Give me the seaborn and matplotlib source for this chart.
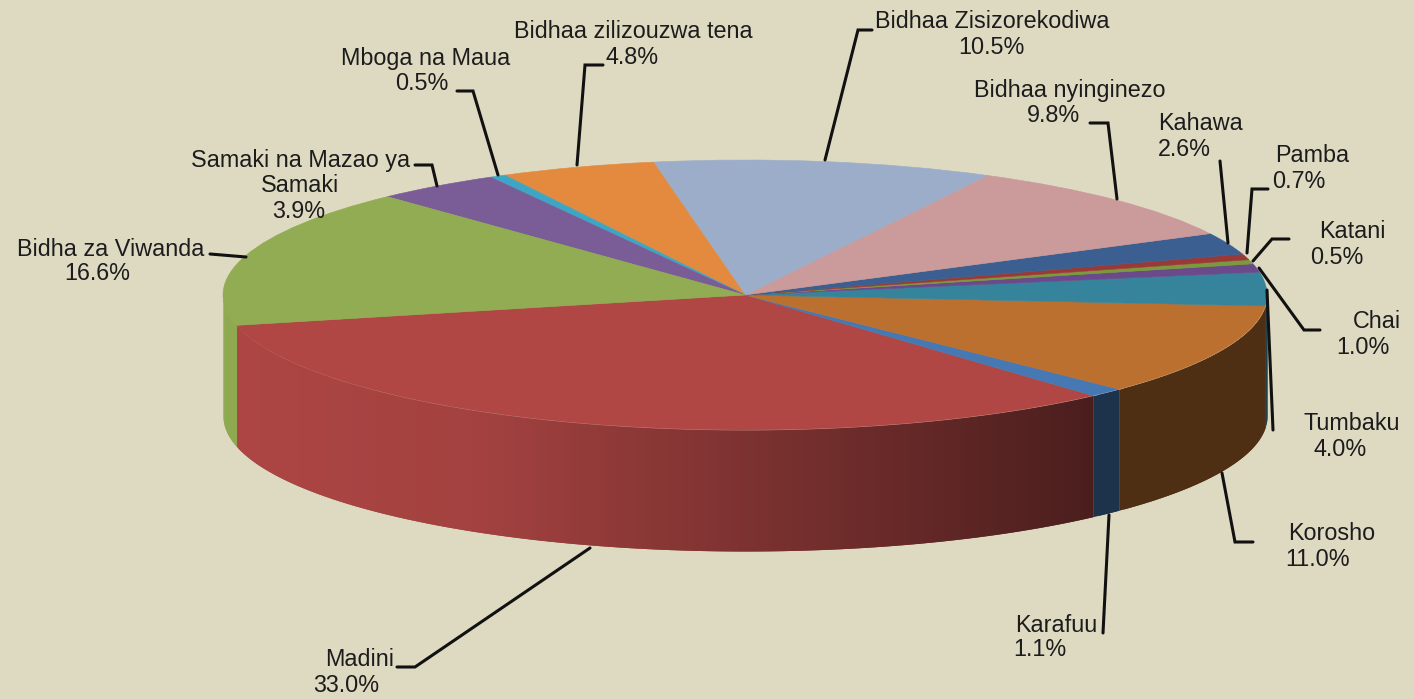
import numpy as np
import matplotlib
matplotlib.use("Agg")
import matplotlib.pyplot as plt
import seaborn as sns

categories = ["Madini", "Karafuu", "Korosho", "Tumbaku", "Chai", "Katani", "Pamba", "Kahawa",
              "Bidhaa nyinginezo", "Bidhaa Zisizorekodiwa", "Bidhaa zilizouzwa tena",
              "Mboga na Maua", "Samaki na Mazao ya\nSamaki", "Bidha za Viwanda"]
shares = [33.0, 1.1, 11.0, 4.0, 1.0, 0.5, 0.7, 2.6, 9.8, 10.5, 4.8, 0.5, 3.9, 16.6]
slice_colors = ["#B04745", "#4679B3", "#BC7030", "#36849B", "#6A4A8A", "#7A9A3C", "#9A3A38",
                "#3A5F90", "#CB9A9B", "#9CADC9", "#E48A3E", "#3EA6C4", "#7A5C96", "#91AC52"]

# pixel layout of the reference
W, H = 1414, 699
CX, CY, RX, RY, DEPTH = 745, 295, 522, 135, 121
BG = "#DEDAC2"
INK = "#1C1C1C"

# left edge / vertical centre of the name line(s) and of the percent line
text_pos = [
    ((325, 660), (313, 685)),
    ((1015, 625), (1013, 650)),
    ((1288, 534), (1285, 560)),
    ((1304, 424), (1313, 449)),
    ((1353, 322), (1336, 348)),
    ((1319, 232), (1310, 257)),
    ((1275, 156), (1272, 181)),
    ((1158, 124), (1158, 150)),
    ((974, 90), (1027, 115)),
    ((875, 21), (958, 47)),
    ((514, 32), (605, 58)),
    ((341, 58), (395, 84)),
    ((191, 160), (272, 211)),
    ((17, 249), (64, 274)),
]

leaders = [
    [(590, 548), (415, 667), (397, 667)],
    [(1109, 515), (1103, 633)],
    [(1222, 473), (1235, 542), (1253, 542)],
    [(1267, 290), (1273, 430)],
    [(1259, 268), (1304, 330), (1320, 330)],
    [(1253, 261), (1272, 239), (1289, 239)],
    [(1247, 253), (1252, 189), (1268, 189)],
    [(1228, 243), (1220, 161)],
    [(1117, 199), (1108, 123), (1090, 123)],
    [(825, 160), (858, 30), (872, 30)],
    [(577, 165), (585, 65), (603, 65)],
    [(498, 175), (473, 91), (457, 91)],
    [(437, 186), (432, 165), (415, 165)],
    [(246, 257), (210, 254)],
]


def px(x, y):
    return (x - CX) / RX, (CY - y) / RY


def wall_shade(x):
    return np.interp(x, [-0.975, -0.5, 0.67], [0.98, 0.92, 0.42])


sns.set_theme(style="white")
plt.rcParams["font.family"] = ["Liberation Sans", "DejaVu Sans"]

fig = plt.figure(figsize=(W / 100, H / 100), dpi=100, facecolor=BG)
ax = fig.add_axes([0, 0, 1, 1])
palette = sns.color_palette(slice_colors)

wedges, _ = ax.pie(shares, colors=palette, startangle=193.0, counterclock=True, radius=1,
                   wedgeprops={"linewidth": 0.4, "zorder": 3})
for wedge in wedges:
    wedge.set_edgecolor(wedge.get_facecolor())

ax.set_aspect("auto")
ax.set_xlim(px(0, 0)[0], px(W, 0)[0])
ax.set_ylim(px(0, H)[1], px(0, 0)[1])
ax.set_facecolor(BG)

# side wall, only the front half of the disc shows
# strips overlap the next one so no seams show through
d = DEPTH / RY
for wedge, color in zip(wedges, palette):
    for shift in (-360, 0, 360):
        t0 = max(wedge.theta1 + shift, 180)
        t1 = min(wedge.theta2 + shift, 360)
        if t1 <= t0:
            continue
        steps = max(int((t1 - t0) * 1.5), 2)
        th = np.radians(np.linspace(t0, t1, steps + 1))
        xs, ys = np.cos(th), np.sin(th)
        for i in range(steps):
            shade = wall_shade((xs[i] + xs[i + 1]) / 2)
            c = tuple(v * shade for v in color)
            ax.fill_between(xs[i:i + 3], ys[i:i + 3], ys[i:i + 3] - d, color=c, lw=0, zorder=2)

for pts in leaders:
    lx, ly = zip(*[px(*p) for p in pts])
    ax.plot(lx, ly, color="#111111", lw=2.2, solid_joinstyle="miter", zorder=4)

for name, share, (name_xy, pct_xy) in zip(categories, shares, text_pos):
    lines = name.split("\n")
    for k, line in enumerate(lines):
        x = name_xy[0] + (70 if k else 0)
        y = name_xy[1] + 25 * k
        ax.text(*px(x, y), line, fontsize=16.8, color=INK, ha="left", va="center", zorder=5)
    ax.text(*px(*pct_xy), f"{share:.1f}%", fontsize=16.8, color=INK, ha="left", va="center", zorder=5)

fig.savefig("out.png", dpi=100, facecolor=BG)
